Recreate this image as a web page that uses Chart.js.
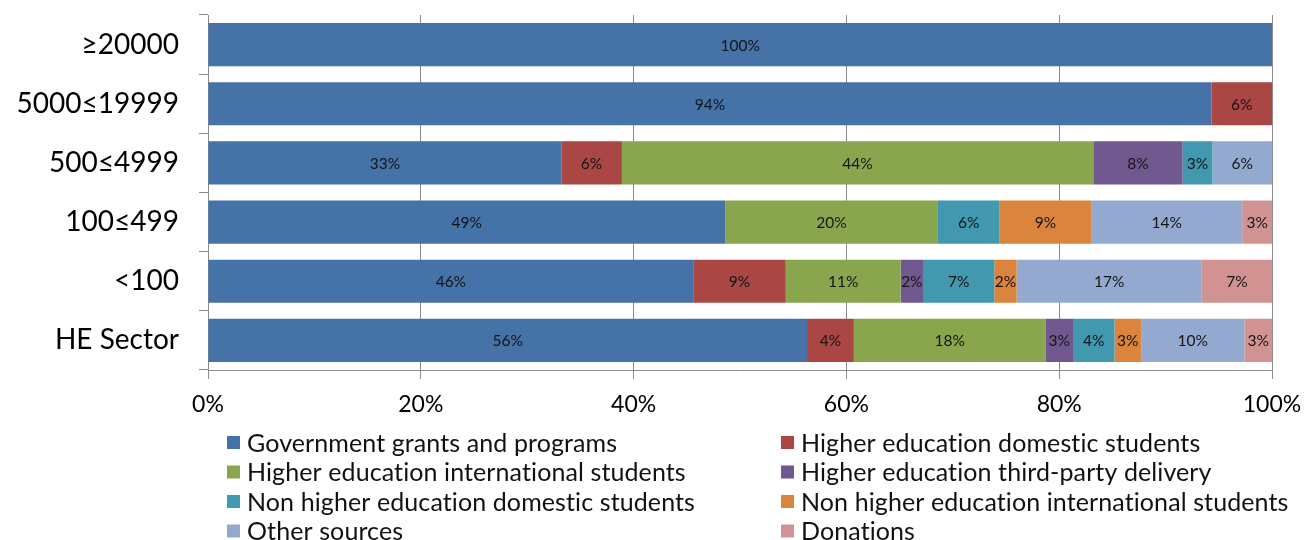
<!DOCTYPE html>
<html>
<head>
<meta charset="utf-8">
<script src="https://cdn.jsdelivr.net/npm/chart.js@4.4.1/dist/chart.umd.min.js"></script>
<style>
  html, body { margin: 0; padding: 0; background: #fff; }
  #wrap { width: 1305px; height: 540px; position: relative; }
</style>
</head>
<body>
<div id="wrap"><canvas id="c" width="1305" height="540"></canvas></div>
<script>
const categories = ['≥20000', '5000≤19999', '500≤4999', '100≤499', '<100', 'HE Sector'];
const seriesNames = [
  'Government grants and programs',
  'Higher education domestic students',
  'Higher education international students',
  'Higher education third-party delivery',
  'Non higher education domestic students',
  'Non higher education international students',
  'Other sources',
  'Donations'
];
const government      = [100, 94.3, 33.2, 48.6, 45.6, 56.3];
const heDomestic      = [0, 5.7, 5.7, 0, 8.7, 4.4];
const heInternational = [0, 0, 44.3, 20.0, 10.8, 18.0];
const heThirdParty    = [0, 0, 8.4, 0, 2.1, 2.6];
const nonHeDomestic   = [0, 0, 2.8, 5.8, 6.7, 3.9];
const nonHeInternational = [0, 0, 0, 8.6, 2.1, 2.5];
const otherSources    = [0, 0, 5.6, 14.2, 17.4, 9.7];
const donations       = [0, 0, 0, 2.8, 6.6, 2.6];
const xTicks = [0, 20, 40, 60, 80, 100];

const seriesValues = [government, heDomestic, heInternational, heThirdParty,
  nonHeDomestic, nonHeInternational, otherSources, donations];
const colors = ['#4572A7', '#AA4643', '#89A54E', '#71588F', '#4198AF', '#DB843D', '#93A9CF', '#D19392'];

const FONT = 'Lato, "Open Sans", sans-serif';

const dataLabels = {
  id: 'dataLabels',
  afterDatasetsDraw(chart) {
    const ctx = chart.ctx;
    ctx.save();
    ctx.font = '15.5px ' + FONT;
    ctx.fillStyle = '#151515';
    ctx.textAlign = 'center';
    ctx.textBaseline = 'middle';
    chart.data.datasets.forEach((ds, di) => {
      const meta = chart.getDatasetMeta(di);
      meta.data.forEach((el, i) => {
        const v = ds.data[i];
        if (!v) return;
        const p = el.getProps(['x', 'y', 'base'], true);
        ctx.fillText(Math.round(v) + '%', (p.x + p.base) / 2, p.y + 1);
      });
    });
    ctx.restore();
  }
};

const gridLegend = {
  id: 'gridLegend',
  afterDraw(chart) {
    const ctx = chart.ctx;
    ctx.save();
    ctx.font = '25px ' + FONT;
    if ('letterSpacing' in ctx) ctx.letterSpacing = '0.1px';
    ctx.textBaseline = 'middle';
    ctx.textAlign = 'left';
    const colX = [227, 781];
    chart.data.datasets.forEach((ds, i) => {
      const col = i % 2, row = Math.floor(i / 2);
      const x = colX[col];
      const y = 442.5 + row * 29.5;
      ctx.fillStyle = ds.backgroundColor;
      ctx.fillRect(x, y - 6.5, 13, 13);
      ctx.fillStyle = '#111';
      ctx.fillText(ds.label, x + 20, y + 1);
    });
    ctx.restore();
  }
};

new Chart(document.getElementById('c'), {
  type: 'bar',
  data: {
    labels: categories,
    datasets: seriesNames.map((name, i) => ({
      label: name,
      data: seriesValues[i],
      backgroundColor: colors[i],
      borderWidth: 0,
      barPercentage: 0.73,
      categoryPercentage: 1.0
    }))
  },
  options: {
    indexAxis: 'y',
    responsive: false,
    animation: false,
    layout: { padding: { left: 0, right: 33, top: 15, bottom: 0 } },
    plugins: {
      legend: { display: false },
      tooltip: { enabled: false },
      title: { display: false }
    },
    scales: {
      x: {
        stacked: true,
        min: 0,
        max: 100,
        afterBuildTicks(scale) { scale.ticks = xTicks.map(v => ({ value: v })); },
        afterFit(scale) { scale.height = 170; scale.paddingLeft = 0; scale.paddingRight = 0; },
        ticks: {
          callback: v => v + '%',
          color: '#000',
          font: { family: FONT, size: 23 },
          padding: 12,
          maxRotation: 0
        },
        grid: { color: '#8a8a8a', lineWidth: 1, tickLength: 9, drawTicks: true },
        border: { display: true, color: '#8a8a8a' }
      },
      y: {
        stacked: true,
        afterFit(scale) { scale.width = 208; scale.paddingTop = 0; scale.paddingBottom = 0; },
        ticks: {
          color: '#000',
          font: { family: FONT, size: 28 },
          padding: 20
        },
        grid: { display: true, drawOnChartArea: false, color: '#8a8a8a', tickLength: 9, offset: true },
        border: { display: true, color: '#8a8a8a' }
      }
    }
  },
  plugins: [dataLabels, gridLegend]
});
</script>
</body>
</html>
